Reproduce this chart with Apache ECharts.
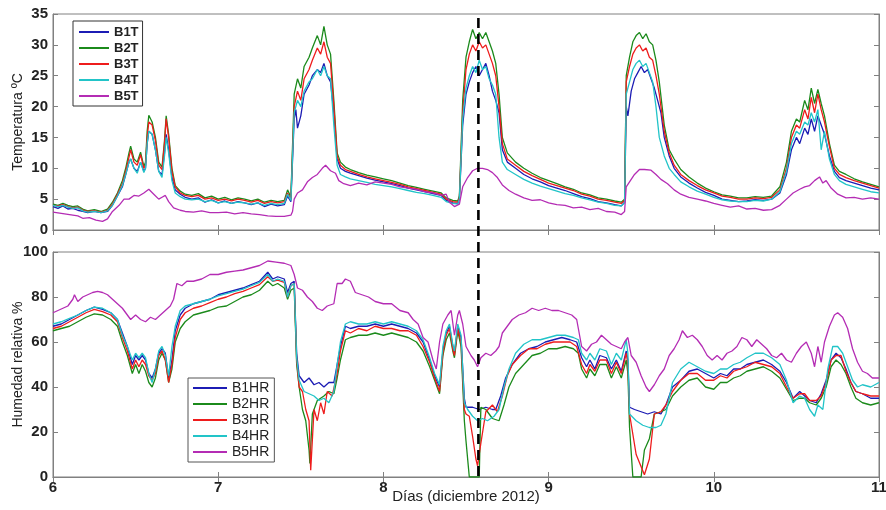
<!DOCTYPE html>
<html>
<head>
<meta charset="utf-8">
<script src="https://cdn.jsdelivr.net/npm/echarts@6/dist/echarts.min.js"></script>
<style>
  html, body { margin: 0; padding: 0; background: #fff; }
  #chart { width: 886px; height: 510px; }
</style>
</head>
<body>
<div id="chart"></div>
<script>
// Temperatura (ºC) por día, pares [día, valor]
const b1T = [[6.00,3.8],[6.03,3.5],[6.06,3.9],[6.09,3.4],[6.12,3.5],[6.15,3.2],[6.18,3.0],[6.21,2.8],[6.25,3.0],[6.29,2.8],[6.33,3.0],[6.36,4.0],[6.39,5.5],[6.42,7.0],[6.44,9.0],[6.46,11.0],[6.47,11.5],[6.49,10.0],[6.51,9.5],[6.53,11.0],[6.55,9.5],[6.56,10.0],[6.57,14.0],[6.58,16.0],[6.60,15.5],[6.62,13.0],[6.64,9.5],[6.66,9.0],[6.675,12.5],[6.685,15.5],[6.70,13.0],[6.72,8.5],[6.74,6.5],[6.77,5.8],[6.80,5.3],[6.84,5.0],[6.88,5.2],[6.92,4.5],[6.96,4.9],[7.00,4.4],[7.04,4.7],[7.08,4.3],[7.12,4.6],[7.16,4.4],[7.20,4.1],[7.24,4.4],[7.28,3.8],[7.32,4.2],[7.36,3.9],[7.40,4.1],[7.42,5.5],[7.44,4.6],[7.45,4.8],[7.46,18.0],[7.47,19.5],[7.48,16.5],[7.50,18.5],[7.52,22.0],[7.55,23.5],[7.57,25.0],[7.60,26.0],[7.62,25.5],[7.64,27.0],[7.66,25.0],[7.68,24.0],[7.70,19.0],[7.72,11.5],[7.74,10.0],[7.77,9.5],[7.80,9.2],[7.85,8.8],[7.90,8.4],[7.95,8.1],[8.00,7.8],[8.05,7.5],[8.10,7.2],[8.15,6.8],[8.20,6.5],[8.25,6.2],[8.30,5.9],[8.35,5.6],[8.38,4.8],[8.42,4.4],[8.45,4.3],[8.46,5.0],[8.48,17.0],[8.50,22.0],[8.52,24.0],[8.54,25.5],[8.56,26.5],[8.58,25.0],[8.60,26.0],[8.62,27.0],[8.64,25.0],[8.66,22.5],[8.68,21.0],[8.70,19.0],[8.72,13.0],[8.75,11.0],[8.80,10.0],[8.85,9.0],[8.90,8.3],[8.95,7.8],[9.00,7.2],[9.05,6.8],[9.10,6.4],[9.15,5.9],[9.20,5.4],[9.25,5.1],[9.30,4.6],[9.35,4.4],[9.40,4.1],[9.44,3.9],[9.46,4.5],[9.47,20.0],[9.48,18.5],[9.50,22.5],[9.52,24.5],[9.54,25.5],[9.56,26.5],[9.58,25.5],[9.60,26.0],[9.62,24.5],[9.64,23.0],[9.66,21.0],[9.68,19.0],[9.70,15.0],[9.73,12.0],[9.76,10.0],[9.80,8.6],[9.85,7.6],[9.90,6.8],[9.95,6.1],[10.00,5.6],[10.05,5.0],[10.10,4.8],[10.15,4.6],[10.20,4.7],[10.25,4.9],[10.30,4.8],[10.35,5.0],[10.40,6.0],[10.44,9.0],[10.47,13.0],[10.50,15.0],[10.52,14.0],[10.55,16.5],[10.57,15.5],[10.59,18.0],[10.61,16.0],[10.63,18.5],[10.65,17.0],[10.67,15.5],[10.70,12.0],[10.73,9.5],[10.76,8.5],[10.80,8.0],[10.85,7.6],[10.90,7.2],[10.95,6.8],[11.00,6.5]];
const b2T = [[6.00,4.2],[6.03,4.0],[6.06,4.3],[6.09,4.0],[6.12,3.8],[6.15,3.9],[6.18,3.4],[6.21,3.1],[6.25,3.3],[6.29,3.0],[6.33,3.4],[6.36,4.5],[6.39,6.0],[6.42,8.0],[6.44,10.0],[6.46,12.5],[6.47,13.6],[6.49,11.5],[6.51,11.0],[6.53,12.6],[6.55,10.3],[6.56,11.0],[6.57,16.0],[6.58,18.6],[6.60,17.5],[6.62,15.0],[6.64,11.0],[6.66,10.2],[6.675,14.5],[6.685,18.5],[6.70,15.5],[6.72,10.0],[6.74,7.2],[6.77,6.3],[6.80,5.8],[6.84,5.6],[6.88,5.9],[6.92,5.2],[6.96,5.5],[7.00,5.0],[7.04,5.3],[7.08,4.9],[7.12,5.2],[7.16,5.0],[7.20,4.7],[7.24,5.0],[7.28,4.5],[7.32,4.8],[7.36,4.6],[7.40,4.8],[7.42,6.5],[7.44,5.3],[7.45,5.5],[7.46,22.0],[7.48,24.5],[7.50,23.0],[7.52,26.5],[7.55,28.0],[7.57,29.5],[7.60,31.5],[7.62,30.0],[7.64,33.0],[7.66,30.0],[7.68,28.5],[7.70,21.0],[7.72,12.5],[7.74,11.0],[7.77,10.2],[7.80,9.8],[7.85,9.3],[7.90,8.9],[7.95,8.6],[8.00,8.3],[8.05,8.0],[8.10,7.6],[8.15,7.2],[8.20,6.9],[8.25,6.6],[8.30,6.3],[8.35,6.0],[8.38,5.2],[8.42,4.8],[8.45,4.7],[8.46,5.5],[8.48,21.0],[8.50,28.0],[8.52,30.5],[8.54,32.5],[8.56,31.0],[8.58,32.0],[8.60,31.0],[8.62,32.0],[8.64,30.5],[8.66,29.0],[8.68,27.0],[8.70,22.0],[8.72,15.0],[8.75,12.5],[8.80,11.0],[8.85,10.0],[8.90,9.2],[8.95,8.5],[9.00,8.0],[9.05,7.5],[9.10,7.0],[9.15,6.6],[9.20,6.0],[9.25,5.7],[9.30,5.2],[9.35,5.0],[9.40,4.7],[9.44,4.5],[9.46,5.0],[9.47,25.0],[9.49,28.0],[9.51,30.5],[9.53,31.5],[9.55,32.0],[9.57,31.0],[9.59,31.8],[9.61,30.5],[9.63,30.0],[9.65,27.5],[9.67,24.0],[9.70,17.0],[9.73,13.0],[9.76,11.5],[9.80,9.8],[9.85,8.6],[9.90,7.6],[9.95,6.8],[10.00,6.2],[10.05,5.7],[10.10,5.5],[10.15,5.2],[10.20,5.2],[10.25,5.4],[10.30,5.3],[10.35,5.5],[10.40,7.0],[10.44,11.0],[10.47,16.0],[10.50,18.0],[10.52,17.5],[10.55,21.0],[10.57,19.5],[10.59,23.0],[10.61,20.5],[10.63,22.8],[10.65,20.5],[10.67,18.5],[10.70,14.0],[10.73,10.5],[10.76,9.5],[10.80,9.0],[10.85,8.3],[10.90,7.8],[10.95,7.4],[11.00,7.0]];
const b3T = [[6.00,4.0],[6.03,3.9],[6.06,4.1],[6.09,3.8],[6.12,3.6],[6.15,3.7],[6.18,3.2],[6.21,3.0],[6.25,3.1],[6.29,2.9],[6.33,3.2],[6.36,4.2],[6.39,5.8],[6.42,7.5],[6.44,9.5],[6.46,11.8],[6.47,13.0],[6.49,11.0],[6.51,10.5],[6.53,12.2],[6.55,10.0],[6.56,10.5],[6.57,15.0],[6.58,17.5],[6.60,17.0],[6.62,14.5],[6.64,10.5],[6.66,9.8],[6.675,14.0],[6.685,18.0],[6.70,15.0],[6.72,9.5],[6.74,7.0],[6.77,6.0],[6.80,5.6],[6.84,5.4],[6.88,5.6],[6.92,5.0],[6.96,5.2],[7.00,4.8],[7.04,5.0],[7.08,4.7],[7.12,5.0],[7.16,4.8],[7.20,4.5],[7.24,4.8],[7.28,4.3],[7.32,4.6],[7.36,4.4],[7.40,4.6],[7.42,6.0],[7.44,5.0],[7.45,5.2],[7.46,20.0],[7.48,22.5],[7.50,21.0],[7.52,24.5],[7.55,26.0],[7.57,27.5],[7.60,29.5],[7.62,28.5],[7.64,30.5],[7.66,28.0],[7.68,27.0],[7.70,20.0],[7.72,12.0],[7.74,10.5],[7.77,9.8],[7.80,9.5],[7.85,9.0],[7.90,8.6],[7.95,8.3],[8.00,8.0],[8.05,7.7],[8.10,7.4],[8.15,7.0],[8.20,6.7],[8.25,6.4],[8.30,6.1],[8.35,5.8],[8.38,5.0],[8.42,4.6],[8.45,4.5],[8.46,5.2],[8.48,19.0],[8.50,26.0],[8.52,28.5],[8.54,30.0],[8.56,29.0],[8.58,30.5],[8.60,29.5],[8.62,30.0],[8.64,28.5],[8.66,27.0],[8.68,25.0],[8.70,20.0],[8.72,14.0],[8.75,11.5],[8.80,10.5],[8.85,9.5],[8.90,8.8],[8.95,8.2],[9.00,7.6],[9.05,7.2],[9.10,6.8],[9.15,6.4],[9.20,5.8],[9.25,5.5],[9.30,5.0],[9.35,4.8],[9.40,4.5],[9.44,4.3],[9.46,4.8],[9.47,24.0],[9.49,26.5],[9.51,28.5],[9.53,29.5],[9.55,30.0],[9.57,29.0],[9.59,29.5],[9.61,28.0],[9.63,27.5],[9.65,25.0],[9.67,22.0],[9.70,16.0],[9.73,12.5],[9.76,10.5],[9.80,9.0],[9.85,8.0],[9.90,7.2],[9.95,6.5],[10.00,6.0],[10.05,5.5],[10.10,5.3],[10.15,5.0],[10.20,5.0],[10.25,5.2],[10.30,5.1],[10.35,5.3],[10.40,6.5],[10.44,10.0],[10.47,15.0],[10.50,17.0],[10.52,16.5],[10.55,19.5],[10.57,18.0],[10.59,21.5],[10.61,19.0],[10.63,22.0],[10.65,19.5],[10.67,17.5],[10.70,13.5],[10.73,10.0],[10.76,9.0],[10.80,8.5],[10.85,8.0],[10.90,7.6],[10.95,7.2],[11.00,6.8]];
const b4T = [[6.00,4.0],[6.03,3.8],[6.06,4.0],[6.09,3.7],[6.12,3.5],[6.15,3.6],[6.18,3.1],[6.21,2.9],[6.25,3.0],[6.29,2.8],[6.33,3.1],[6.36,4.0],[6.39,5.5],[6.42,7.2],[6.44,9.0],[6.46,11.0],[6.47,11.5],[6.49,10.0],[6.51,9.2],[6.53,11.0],[6.55,9.3],[6.56,10.0],[6.57,14.0],[6.58,16.0],[6.60,15.5],[6.62,13.0],[6.64,9.5],[6.66,8.5],[6.675,12.0],[6.685,15.0],[6.70,12.5],[6.72,8.0],[6.74,6.0],[6.77,5.4],[6.80,5.0],[6.84,4.9],[6.88,5.0],[6.92,4.6],[6.96,4.8],[7.00,4.4],[7.04,4.6],[7.08,4.3],[7.12,4.5],[7.16,4.4],[7.20,4.2],[7.24,4.4],[7.28,4.0],[7.32,4.3],[7.36,4.1],[7.40,4.3],[7.42,5.8],[7.44,4.8],[7.45,5.0],[7.46,19.0],[7.48,21.0],[7.50,20.0],[7.52,22.5],[7.55,24.0],[7.57,24.5],[7.60,26.0],[7.62,25.0],[7.64,26.5],[7.66,25.0],[7.68,24.5],[7.70,17.0],[7.72,10.5],[7.74,9.0],[7.77,8.6],[7.80,8.3],[7.85,8.0],[7.90,7.7],[7.95,7.4],[8.00,7.2],[8.05,7.0],[8.10,6.7],[8.15,6.4],[8.20,6.1],[8.25,5.9],[8.30,5.6],[8.35,5.3],[8.38,4.6],[8.42,4.3],[8.45,4.2],[8.46,5.0],[8.48,18.0],[8.50,23.0],[8.52,25.0],[8.54,26.5],[8.56,25.5],[8.58,27.5],[8.60,26.0],[8.62,26.5],[8.64,24.5],[8.66,23.5],[8.68,22.0],[8.70,15.0],[8.72,11.0],[8.75,9.8],[8.80,9.0],[8.85,8.2],[8.90,7.6],[8.95,7.1],[9.00,6.7],[9.05,6.3],[9.10,5.9],[9.15,5.6],[9.20,5.2],[9.25,4.9],[9.30,4.5],[9.35,4.3],[9.40,4.0],[9.44,3.9],[9.46,4.4],[9.47,22.0],[9.49,24.0],[9.51,26.0],[9.53,27.0],[9.55,27.5],[9.57,26.5],[9.59,27.0],[9.61,25.5],[9.63,24.0],[9.65,20.0],[9.67,15.0],[9.70,12.0],[9.73,10.0],[9.76,9.0],[9.80,7.8],[9.85,7.0],[9.90,6.3],[9.95,5.8],[10.00,5.3],[10.05,4.9],[10.10,4.7],[10.15,4.6],[10.20,4.6],[10.25,4.8],[10.30,4.7],[10.35,5.0],[10.40,6.2],[10.44,9.5],[10.47,14.0],[10.50,16.0],[10.52,15.5],[10.55,17.5],[10.57,17.0],[10.59,19.0],[10.61,17.5],[10.63,19.5],[10.65,13.0],[10.67,16.0],[10.70,11.5],[10.73,9.0],[10.76,8.0],[10.80,7.4],[10.85,7.0],[10.90,6.6],[10.95,6.2],[11.00,6.0]];
const b5T = [[6.00,2.9],[6.05,2.7],[6.10,2.5],[6.15,2.3],[6.18,1.9],[6.22,2.0],[6.26,1.6],[6.30,1.4],[6.33,1.8],[6.36,3.0],[6.40,4.0],[6.43,5.0],[6.46,5.0],[6.49,5.6],[6.52,5.5],[6.55,6.0],[6.58,6.6],[6.61,5.8],[6.64,5.0],[6.66,5.3],[6.68,5.6],[6.70,4.6],[6.73,3.6],[6.77,3.2],[6.80,3.0],[6.85,2.9],[6.90,3.1],[6.95,2.8],[7.00,2.8],[7.05,2.9],[7.10,2.6],[7.15,2.8],[7.20,2.6],[7.25,2.5],[7.30,2.3],[7.35,2.2],[7.40,2.2],[7.44,2.4],[7.45,3.0],[7.46,5.0],[7.48,6.0],[7.51,6.5],[7.54,7.8],[7.57,8.5],[7.60,9.0],[7.63,10.0],[7.65,10.5],[7.68,9.6],[7.71,9.2],[7.73,8.0],[7.76,7.5],[7.80,7.2],[7.85,7.6],[7.90,7.3],[7.95,7.8],[8.00,7.6],[8.05,7.4],[8.10,7.0],[8.15,6.8],[8.20,6.6],[8.25,6.2],[8.30,6.0],[8.35,5.6],[8.38,5.8],[8.40,4.5],[8.43,3.8],[8.46,4.2],[8.48,7.0],[8.51,8.5],[8.54,9.6],[8.57,10.0],[8.60,10.0],[8.63,9.8],[8.66,9.3],[8.69,8.5],[8.72,7.3],[8.76,6.4],[8.80,5.8],[8.85,5.2],[8.90,4.8],[8.95,4.9],[9.00,4.4],[9.05,4.1],[9.10,4.0],[9.15,3.6],[9.20,3.7],[9.25,3.3],[9.30,3.5],[9.35,3.0],[9.40,2.9],[9.44,2.5],[9.46,3.0],[9.47,7.0],[9.49,7.8],[9.52,9.0],[9.55,9.8],[9.58,9.8],[9.62,9.7],[9.65,9.0],[9.68,8.2],[9.72,7.5],[9.76,6.5],[9.80,5.8],[9.85,5.3],[9.90,5.0],[9.95,4.7],[10.00,4.3],[10.05,4.0],[10.10,3.7],[10.15,3.9],[10.20,3.4],[10.25,3.5],[10.30,3.2],[10.35,3.3],[10.40,4.0],[10.44,5.0],[10.48,6.0],[10.52,6.6],[10.55,7.0],[10.58,7.2],[10.61,8.0],[10.64,8.6],[10.66,7.6],[10.68,8.0],[10.71,6.8],[10.75,5.8],[10.80,5.2],[10.85,5.3],[10.90,5.0],[10.95,5.2],[11.00,5.0]];

// Humedad relativa (%) por día
const b1HR = [[6.00,67],[6.05,68],[6.10,70],[6.15,72],[6.20,74],[6.25,75.5],[6.30,74.5],[6.35,73],[6.39,70],[6.42,64],[6.45,58],[6.48,50],[6.50,54],[6.52,52],[6.54,54],[6.56,52],[6.58,46],[6.60,44],[6.62,48],[6.64,55],[6.66,57],[6.68,55],[6.70,44],[6.72,52],[6.74,65],[6.77,72],[6.80,75],[6.85,77],[6.90,78],[6.95,79],[7.00,81],[7.05,82],[7.10,83],[7.15,84],[7.20,85.5],[7.25,87],[7.30,91],[7.33,88],[7.36,89],[7.40,88],[7.42,82],[7.44,86],[7.46,87],[7.475,55],[7.49,45],[7.52,42],[7.55,44],[7.58,41],[7.61,42],[7.64,40],[7.67,42],[7.70,42],[7.72,50],[7.74,58],[7.77,67],[7.80,66],[7.85,67],[7.90,67],[7.95,68],[8.00,67],[8.05,68],[8.10,67],[8.15,66],[8.20,64],[8.24,60],[8.28,52],[8.31,45],[8.34,40],[8.36,56],[8.38,64],[8.40,67],[8.42,58],[8.43,55],[8.45,67],[8.47,62],[8.49,35],[8.50,31],[8.54,31],[8.58,30],[8.62,31],[8.66,30],[8.68,30],[8.71,36],[8.74,44],[8.78,50],[8.83,55],[8.88,57],[8.93,58],[8.98,60],[9.03,61],[9.08,62],[9.13,61],[9.17,60],[9.20,53],[9.23,49],[9.25,52],[9.28,48],[9.31,54],[9.35,53],[9.38,48],[9.41,52],[9.44,47],[9.47,56],[9.48,52],[9.49,31],[9.52,30],[9.56,29],[9.60,28],[9.64,29],[9.68,28],[9.71,32],[9.75,40],[9.80,43],[9.85,47],[9.90,48],[9.95,46],[10.00,44],[10.04,46],[10.08,45],[10.12,48],[10.16,48],[10.20,50],[10.25,51],[10.30,52],[10.35,50],[10.40,47],[10.44,42],[10.48,35],[10.52,38],[10.55,36],[10.58,34],[10.62,33],[10.65,37],[10.68,43],[10.71,52],[10.74,55],[10.77,53],[10.80,48],[10.83,42],[10.86,38],[10.90,37],[10.95,35],[11.00,35]];
const b2HR = [[6.00,65],[6.05,66],[6.10,67],[6.15,69],[6.20,71],[6.25,72.5],[6.30,72],[6.35,70],[6.39,67],[6.42,60],[6.45,54],[6.48,46],[6.50,50],[6.52,46],[6.54,50],[6.56,47],[6.58,42],[6.60,40],[6.62,44],[6.64,52],[6.66,55],[6.68,52],[6.70,42],[6.72,48],[6.74,60],[6.77,66],[6.80,69],[6.85,72],[6.90,73],[6.95,74],[7.00,75.5],[7.05,76],[7.10,78],[7.15,80],[7.20,81],[7.25,83],[7.30,87],[7.33,85],[7.36,86],[7.40,84],[7.42,79],[7.44,83],[7.46,84],[7.475,50],[7.49,40],[7.51,30],[7.53,25],[7.55,12],[7.555,6],[7.57,28],[7.60,34],[7.64,36],[7.67,38],[7.70,37],[7.72,44],[7.74,52],[7.77,61],[7.80,62],[7.85,63],[7.90,63],[7.95,64],[8.00,63],[8.05,64],[8.10,63],[8.15,62],[8.20,60],[8.24,56],[8.28,49],[8.31,43],[8.34,37],[8.36,54],[8.38,61],[8.40,64],[8.42,56],[8.43,53],[8.45,65],[8.47,58],[8.49,25],[8.50,16],[8.52,0],[8.58,0],[8.59,31],[8.62,30],[8.66,26],[8.70,25],[8.73,32],[8.76,40],[8.80,46],[8.85,50],[8.90,54],[8.95,55],[9.00,57],[9.05,57],[9.10,58],[9.15,57],[9.18,55],[9.20,48],[9.23,44],[9.25,48],[9.28,45],[9.31,50],[9.35,50],[9.38,44],[9.41,49],[9.44,44],[9.47,52],[9.48,46],[9.49,22],[9.51,0],[9.56,0],[9.58,12],[9.61,17],[9.64,28],[9.68,29],[9.71,30],[9.75,36],[9.80,40],[9.85,43],[9.90,44],[9.95,40],[10.00,39],[10.04,42],[10.08,42],[10.12,44],[10.16,45],[10.20,47],[10.25,48],[10.30,49],[10.35,47],[10.40,44],[10.44,39],[10.48,34],[10.52,35],[10.55,35],[10.58,33],[10.62,32],[10.65,35],[10.68,40],[10.71,49],[10.74,52],[10.77,50],[10.80,46],[10.83,40],[10.86,35],[10.90,33],[10.95,32],[11.00,33]];
const b3HR = [[6.00,66],[6.05,67],[6.10,69],[6.15,71],[6.20,73],[6.25,74.5],[6.30,73.5],[6.35,72],[6.39,69],[6.42,62],[6.45,56],[6.48,48],[6.50,52],[6.52,49],[6.54,52],[6.56,50],[6.58,45],[6.60,43],[6.62,46],[6.64,54],[6.66,56],[6.68,52],[6.70,42],[6.72,50],[6.74,62],[6.77,70],[6.80,73],[6.85,75],[6.90,76],[6.95,77.5],[7.00,79],[7.05,80],[7.10,81.5],[7.15,82.5],[7.20,84],[7.25,85.5],[7.30,89],[7.33,87],[7.36,87.5],[7.40,86.5],[7.42,80],[7.44,85],[7.46,86],[7.475,52],[7.49,40],[7.51,38],[7.53,30],[7.55,25],[7.56,3],[7.58,30],[7.60,25],[7.62,33],[7.64,28],[7.66,38],[7.69,36],[7.72,46],[7.74,56],[7.77,65],[7.80,64],[7.85,66],[7.90,65],[7.95,67],[8.00,66],[8.05,66],[8.10,65],[8.15,65],[8.20,63],[8.24,58],[8.28,51],[8.31,44],[8.34,38],[8.36,55],[8.38,63],[8.40,66],[8.42,57],[8.43,54],[8.45,66],[8.47,60],[8.49,30],[8.50,28],[8.52,27],[8.54,18],[8.56,8],[8.57,5],[8.59,15],[8.62,29],[8.66,32],[8.69,29],[8.72,36],[8.75,45],[8.78,50],[8.83,54],[8.88,57],[8.93,57],[8.98,59],[9.03,60],[9.08,60],[9.13,60],[9.17,58],[9.20,50],[9.23,46],[9.25,50],[9.28,47],[9.31,52],[9.35,52],[9.38,46],[9.41,51],[9.44,46],[9.47,55],[9.48,50],[9.49,28],[9.53,10],[9.58,1],[9.61,8],[9.64,28],[9.68,29],[9.71,32],[9.75,38],[9.80,43],[9.85,46],[9.90,46],[9.95,43],[10.00,43],[10.04,45],[10.08,44],[10.12,47],[10.16,48],[10.20,49],[10.25,51],[10.30,50],[10.35,49],[10.40,46],[10.44,40],[10.48,35],[10.52,37],[10.55,37],[10.58,34],[10.62,34],[10.65,36],[10.68,42],[10.71,52],[10.74,54],[10.77,54],[10.80,47],[10.83,42],[10.86,38],[10.90,37],[10.95,36],[11.00,36]];
const b4HR = [[6.00,68],[6.05,69],[6.10,70.5],[6.15,72],[6.20,74],[6.25,75.5],[6.30,75],[6.35,73],[6.39,70],[6.42,63],[6.45,58],[6.48,52],[6.50,55],[6.52,53],[6.54,55],[6.56,53],[6.58,46],[6.60,42],[6.62,48],[6.64,56],[6.66,58],[6.68,54],[6.70,45],[6.72,58],[6.74,67],[6.77,74],[6.80,76],[6.85,77],[6.90,78],[6.95,79],[7.00,80.5],[7.05,81.5],[7.10,82.5],[7.15,83.5],[7.20,85],[7.25,86.5],[7.30,90],[7.33,87],[7.36,88],[7.40,87],[7.42,80],[7.44,85],[7.46,86],[7.475,53],[7.49,43],[7.52,38],[7.55,37],[7.58,36],[7.61,34],[7.64,35],[7.67,33],[7.70,38],[7.72,50],[7.74,60],[7.77,68],[7.80,69],[7.85,68],[7.90,68],[7.95,69],[8.00,68],[8.05,69],[8.10,68],[8.15,67],[8.20,65],[8.24,61],[8.28,53],[8.31,46],[8.34,41],[8.36,58],[8.38,65],[8.40,68],[8.42,59],[8.43,56],[8.45,68],[8.47,63],[8.49,33],[8.51,30],[8.54,27],[8.57,25],[8.60,26],[8.63,25],[8.67,27],[8.70,30],[8.73,40],[8.76,48],[8.80,55],[8.85,59],[8.90,61],[8.95,61],[9.00,62],[9.05,63],[9.10,63],[9.15,62],[9.18,61],[9.20,55],[9.23,52],[9.25,55],[9.28,52],[9.31,57],[9.35,56],[9.38,50],[9.41,55],[9.44,52],[9.47,61],[9.48,55],[9.49,28],[9.53,25],[9.57,23],[9.61,22],[9.65,22],[9.68,23],[9.71,28],[9.75,42],[9.80,48],[9.85,51],[9.90,49],[9.95,47],[10.00,46],[10.04,48],[10.08,48],[10.12,50],[10.16,51],[10.20,53],[10.25,55],[10.30,55],[10.35,53],[10.40,50],[10.44,43],[10.48,33],[10.52,36],[10.55,35],[10.58,30],[10.61,27],[10.63,32],[10.66,30],[10.69,48],[10.72,58],[10.75,58],[10.78,55],[10.81,49],[10.84,43],[10.87,40],[10.90,41],[10.95,40],[11.00,42]];
const b5HR = [[6.00,73],[6.03,74],[6.06,75],[6.09,76],[6.12,79],[6.13,81],[6.15,78],[6.18,80],[6.21,81],[6.24,82],[6.27,82.5],[6.30,82],[6.33,81],[6.36,79],[6.39,77],[6.42,75],[6.45,72],[6.47,70],[6.50,72],[6.53,70],[6.56,69],[6.59,71],[6.62,70],[6.65,72],[6.68,74],[6.71,76],[6.73,79],[6.75,86],[6.78,85],[6.81,87],[6.85,87],[6.90,88],[6.95,90],[7.00,90],[7.05,91],[7.10,91.5],[7.15,92],[7.20,93],[7.25,94],[7.30,96],[7.35,95.5],[7.40,95],[7.44,94],[7.46,90],[7.48,84],[7.51,83],[7.54,80],[7.57,78],[7.60,75],[7.63,74],[7.66,76],[7.70,77],[7.72,86],[7.75,86],[7.77,88],[7.80,87],[7.83,82],[7.87,81],[7.91,80],[7.95,78],[8.00,77],[8.05,77],[8.10,74],[8.15,73],[8.18,70],[8.21,68],[8.24,62],[8.27,60],[8.30,52],[8.32,48],[8.34,60],[8.36,68],[8.39,72],[8.41,74],[8.43,63],[8.45,72],[8.46,74],[8.48,68],[8.50,58],[8.53,54],[8.55,52],[8.57,49],[8.59,53],[8.62,55],[8.65,54],[8.68,56],[8.70,58],[8.72,64],[8.75,67],[8.78,70],[8.82,72],[8.86,73],[8.90,75],[8.94,74],[8.98,75],[9.02,74],[9.06,74],[9.10,73],[9.14,72],[9.17,70],[9.20,58],[9.23,56],[9.26,59],[9.29,60],[9.32,63],[9.35,61],[9.38,59],[9.41,58],[9.44,57],[9.46,60],[9.48,62],[9.50,54],[9.53,51],[9.56,45],[9.59,40],[9.61,38],[9.64,41],[9.67,45],[9.70,48],[9.73,54],[9.76,57],[9.79,61],[9.81,65],[9.84,62],[9.87,63],[9.90,61],[9.93,58],[9.96,54],[9.99,52],[10.02,54],[10.05,52],[10.08,55],[10.11,56],[10.14,58],[10.17,62],[10.20,61],[10.23,58],[10.26,61],[10.29,59],[10.32,57],[10.35,54],[10.38,53],[10.41,55],[10.44,52],[10.47,51],[10.50,55],[10.53,58],[10.56,60],[10.59,55],[10.61,49],[10.63,58],[10.65,51],[10.67,60],[10.70,67],[10.73,72],[10.75,73],[10.78,71],[10.81,66],[10.84,57],[10.87,51],[10.90,47],[10.93,46],[10.96,44],[11.00,44]];

// línea vertical discontinua (día marcado)
const markDay = 8.575;

const namesT = ['B1T', 'B2T', 'B3T', 'B4T', 'B5T'];
const namesHR = ['B1HR', 'B2HR', 'B3HR', 'B4HR', 'B5HR'];
const colors = ['#1c1cb4', '#1b8a1b', '#ee1c1c', '#22c4c8', '#b42cb4'];

const font = 'Liberation Sans, Arial, sans-serif';
const gray = '#808080';

function xAx(grid, showLabels, pos) {
	return {
		type: 'value', gridIndex: grid, min: 6, max: 11, interval: 1, position: pos,
		axisLine: { lineStyle: { color: gray } },
		axisTick: { inside: true, length: 5, lineStyle: { color: gray } },
		axisLabel: { show: showLabels, color: '#222', fontFamily: font, fontSize: 15, fontWeight: 'bold', margin: 3 },
		splitLine: { show: false }
	};
}
function yAx(grid, max, interval, pos, name) {
	return {
		type: 'value', gridIndex: grid, min: 0, max: max, interval: interval, position: pos,
		name: name || '', nameLocation: 'middle', nameGap: 28, nameMoveOverlap: false,
		nameTextStyle: { color: '#222', fontFamily: font, fontSize: 14 },
		axisLine: { show: true, lineStyle: { color: gray } },
		axisTick: { inside: true, length: 5, lineStyle: { color: gray } },
		axisLabel: { show: pos === 'left', color: '#222', fontFamily: font, fontSize: 15, fontWeight: 'bold', margin: 5 },
		splitLine: { show: false }
	};
}

const chart = echarts.init(document.getElementById('chart'));

const dataT = [b1T, b2T, b3T, b4T, b5T];
const dataHR = [b1HR, b2HR, b3HR, b4HR, b5HR];
const series = [];
dataT.forEach((d, i) => {
	series.push({ name: namesT[i], type: 'line', xAxisIndex: 0, yAxisIndex: 0, data: d, symbol: 'none',
		lineStyle: { width: 1.3, color: colors[i] }, itemStyle: { color: colors[i] }, animation: false });
});
dataHR.forEach((d, i) => {
	series.push({ name: namesHR[i], type: 'line', xAxisIndex: 2, yAxisIndex: 2, data: d, symbol: 'none',
		lineStyle: { width: 1.3, color: colors[i] }, itemStyle: { color: colors[i] }, animation: false });
});
series.push({ type: 'line', xAxisIndex: 4, yAxisIndex: 4, data: [[markDay, 0], [markDay, 1]], symbol: 'none',
	lineStyle: { width: 2.6, color: '#000', type: [10, 6] }, z: 5, animation: false, silent: true });

chart.setOption({
	backgroundColor: '#fff',
	animation: false,
	grid: [
		{ left: 53, top: 14, width: 826, height: 216, show: true, borderColor: gray, borderWidth: 1, outerBoundsMode: 'none' },
		{ left: 53, top: 252, width: 826, height: 225, show: true, borderColor: gray, borderWidth: 1, outerBoundsMode: 'none' },
		{ left: 53, top: 17, width: 826, height: 459, outerBoundsMode: 'none' }
	],
	xAxis: [
		xAx(0, false, 'bottom'), xAx(0, false, 'top'),
		Object.assign(xAx(1, true, 'bottom'), {
			name: 'Días (diciembre 2012)', nameLocation: 'middle', nameGap: 12, nameMoveOverlap: false,
			nameTextStyle: { color: '#222', fontFamily: font, fontSize: 15 }
		}),
		xAx(1, false, 'top'),
		{ type: 'value', gridIndex: 2, min: 6, max: 11, show: false }
	],
	yAxis: [
		yAx(0, 35, 5, 'left', 'Temperatura ºC'), yAx(0, 35, 5, 'right'),
		yAx(1, 100, 20, 'left', 'Humedad relativa %'), yAx(1, 100, 20, 'right'),
		{ type: 'value', gridIndex: 2, min: 0, max: 1, show: false }
	],
	legend: [
		{ data: namesT, orient: 'vertical', left: 73, top: 21, icon: 'rect', itemWidth: 30, itemHeight: 2, itemGap: 2,
			padding: [4, 4, 3, 6], backgroundColor: '#fff', borderColor: '#333', borderWidth: 1,
			textStyle: { fontFamily: font, fontSize: 13, fontWeight: 'bold', color: '#222', lineHeight: 14 } },
		{ data: namesHR, orient: 'vertical', left: 188, top: 378, icon: 'rect', itemWidth: 34, itemHeight: 2, itemGap: 2,
			padding: [3, 5, 3, 5], backgroundColor: '#fff', borderColor: '#555', borderWidth: 1,
			textStyle: { fontFamily: font, fontSize: 14, color: '#222', lineHeight: 14 } }
	],
	series: series
});
</script>
</body>
</html>
